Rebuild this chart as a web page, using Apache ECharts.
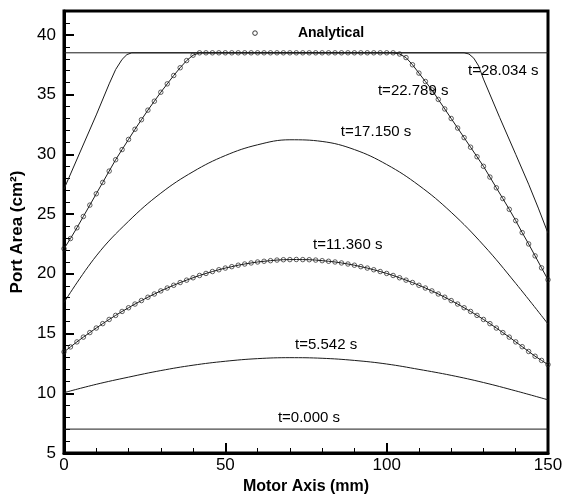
<!DOCTYPE html>
<html><head><meta charset="utf-8">
<script src="https://cdn.jsdelivr.net/npm/echarts@6/dist/echarts.min.js"></script>
<style>html,body{margin:0;padding:0;background:#fff}#c{width:563px;height:494px}</style>
</head><body><div id="c"></div>
<script>
// ---- data ----
const xTicks = [0, 50, 100, 150];
const yTicks = [5, 10, 15, 20, 25, 30, 35, 40];

const x2mm = [0,2,4,6,8,10,12,14,16,18,20,22,24,26,28,30,32,34,36,38,40,42,44,46,48,50,52,54,56,58,60,62,64,66,68,70,72,74,76,78,80,82,84,86,88,90,92,94,96,98,100,102,104,106,108,110,112,114,116,118,120,122,124,126,128,130,132,134,136,138,140,142,144,146,148,150];

const analytical11360 = [13.46,13.88,14.30,14.70,15.08,15.46,15.83,16.18,16.52,16.85,17.16,17.47,17.76,18.04,18.31,18.57,18.81,19.04,19.27,19.47,19.67,19.86,20.03,20.19,20.34,20.48,20.60,20.72,20.82,20.91,20.99,21.05,21.10,21.15,21.18,21.19,21.20,21.19,21.18,21.15,21.10,21.05,20.99,20.91,20.82,20.72,20.60,20.48,20.34,20.19,20.03,19.86,19.67,19.47,19.27,19.04,18.81,18.57,18.31,18.04,17.76,17.47,17.16,16.85,16.52,16.18,15.83,15.46,15.08,14.70,14.30,13.90,13.50,13.10,12.75,12.40];

const analytical22789 = [22.1,22.95,23.85,24.8,25.75,26.7,27.65,28.6,29.55,30.4,31.25,32.1,32.9,33.7,34.45,35.2,35.9,36.6,37.25,37.85,38.3,38.5,
38.5,38.5,38.5,38.5,38.5,38.5,38.5,38.5,38.5,38.5,38.5,38.5,38.5,38.5,38.5,38.5,38.5,38.5,38.5,38.5,38.5,38.5,38.5,38.5,38.5,38.5,38.5,38.5,38.5,38.5,
38.4,38.1,37.5,36.8,36.1,35.4,34.6,33.8,33.0,32.2,31.4,30.6,29.8,29.0,28.1,27.2,26.3,25.4,24.45,23.45,22.5,21.5,20.5,19.5];

const x10mm = [0,10,20,30,40,50,60,70,80,90,100,110,120,130,140,150];
const sim5542 = [10.05,10.75,11.35,11.9,12.35,12.68,12.9,12.98,12.93,12.75,12.45,12.0,11.5,10.9,10.2,9.45];
const sim17150 = [17.6,21.5,24.4,26.75,28.55,29.9,30.8,31.22,31.08,30.4,29.15,27.4,25.15,22.4,19.2,15.8];

const x0 = [0, 150];
const sim0 = [7.0, 7.0];

const x28034 = [0,5,10,14,16,18,19.5,21,124,125.5,127,128.5,130,135,140,144,147,150];
const sim28034 = [27.1,30.2,33.3,35.9,37.1,37.95,38.35,38.5,38.5,38.4,38.05,37.4,36.3,33.1,30.0,27.5,25.5,23.4];

const xCap = [0, 150];
const capLevel = [38.5, 38.5];

const curveLabels = ['t=28.034 s', 't=22.789 s', 't=17.150 s', 't=11.360 s', 't=5.542 s', 't=0.000 s'];
const legendLabel = 'Analytical';

// ---- layout / style (separate from data) ----
const labelAnchors = [[125.2,36.97],[97.3,35.3],[85.8,31.86],[77.2,22.4],[71.6,14.04],[66.3,7.93]];
const legendAnchor = { symbol: [59.2, 40.15], text: [72.5, 40.15] };
const FONT = "'Liberation Sans', Arial, Helvetica, sans-serif";
const LINE = { color: '#1a1a1a', width: 1 };

const zip = (xs, ys) => xs.map((x, i) => [x, ys[i]]);

const lineSeries = (name, xs, ys, smooth) => ({
  name, type: 'line', data: zip(xs, ys), showSymbol: false, symbol: 'none',
  smooth: smooth ? 0.4 : false, lineStyle: LINE, silent: true, z: 3, clip: false
});

const chart = echarts.init(document.getElementById('c'), null, { renderer: 'canvas' });

const option = {
  animation: false,
  backgroundColor: '#fff',
  textStyle: { fontFamily: FONT },
  grid: { left: 64, right: 15, top: 11, bottom: 41, show: true, borderColor: '#000', borderWidth: 3, backgroundColor: 'transparent', containLabel: false, outerBoundsMode: 'none' },
  xAxis: {
    type: 'value', min: 0, max: 150, interval: 50,
    axisLine: { show: true, lineStyle: { color: '#000', width: 3 } },
    axisTick: { show: true, inside: true, length: 10, lineStyle: { color: '#000', width: 2 } },
    minorTick: { show: true, splitNumber: 5, length: 5, lineStyle: { color: '#000', width: 1 } },
    axisLabel: { color: '#000', fontSize: 17, margin: 4, fontFamily: FONT, showMinLabel: true, showMaxLabel: true,
      formatter: v => (xTicks.includes(v) ? String(v) : '') },
    splitLine: { show: false }, minorSplitLine: { show: false },
    name: 'Motor Axis (mm)', nameLocation: 'middle', nameGap: 21,
    nameTextStyle: { color: '#000', fontWeight: 'bold', fontSize: 16, fontFamily: FONT }
  },
  yAxis: [{
    type: 'value', min: 5, max: 42, interval: 5,
    axisLine: { show: true, lineStyle: { color: '#000', width: 3 } },
    axisTick: { show: true, inside: true, length: 10, lineStyle: { color: '#000', width: 2 } },
    minorTick: { show: false },
    axisLabel: { color: '#000', fontSize: 17, margin: 8, fontFamily: FONT, showMinLabel: true, showMaxLabel: true,
      formatter: v => (yTicks.includes(v) ? String(v) : '') },
    splitLine: { show: false },
    name: 'Port Area (cm²)', nameLocation: 'middle', nameGap: 33, nameRotate: 90,
    nameTextStyle: { color: '#000', fontWeight: 'bold', fontSize: 17, fontFamily: FONT }
  }, {
    type: 'value', min: 5, max: 42, interval: 1, position: 'left', offset: 0,
    axisLine: { show: false },
    axisTick: { show: true, inside: true, length: 6, lineStyle: { color: '#000', width: 1 } },
    axisLabel: { show: false }, splitLine: { show: false }
  }],
  series: [
    lineSeries('cap', xCap, capLevel, false),
    lineSeries('t0', x0, sim0, false),
    lineSeries('t5542', x10mm, sim5542, true),
    lineSeries('t11360', x2mm, analytical11360, false),
    lineSeries('t17150', x10mm, sim17150, true),
    lineSeries('t22789', x2mm, analytical22789, false),
    lineSeries('t28034', x28034, sim28034, false),
    { name: legendLabel, type: 'scatter', data: zip(x2mm, analytical11360), symbol: 'circle', symbolSize: 4.5,
      itemStyle: { color: 'rgba(255,255,255,0)', borderColor: '#222', borderWidth: 0.9 }, silent: true, z: 4 },
    { name: legendLabel, type: 'scatter', data: zip(x2mm, analytical22789), symbol: 'circle', symbolSize: 4.5,
      itemStyle: { color: 'rgba(255,255,255,0)', borderColor: '#222', borderWidth: 0.9 }, silent: true, z: 4 }
  ]
};
chart.setOption(option);

const toPx = p => chart.convertToPixel({ xAxisIndex: 0, yAxisIndex: 0 }, p);
const graphics = curveLabels.map((t, i) => {
  const p = toPx(labelAnchors[i]);
  return { type: 'text', x: p[0], y: p[1], z: 10,
    style: { text: t, fill: '#000', font: '15px ' + FONT, textAlign: 'left', textVerticalAlign: 'middle' } };
});
const sp = toPx(legendAnchor.symbol), tp = toPx(legendAnchor.text);
graphics.push({ type: 'circle', shape: { cx: sp[0], cy: sp[1], r: 2.3 }, z: 10,
  style: { fill: 'rgba(255,255,255,0)', stroke: '#222', lineWidth: 0.9 } });
graphics.push({ type: 'text', x: tp[0], y: tp[1], z: 10,
  style: { text: legendLabel, fill: '#000', font: 'bold 14px ' + FONT, textAlign: 'left', textVerticalAlign: 'middle' } });
chart.setOption({ graphic: graphics });
</script>
</body></html>
